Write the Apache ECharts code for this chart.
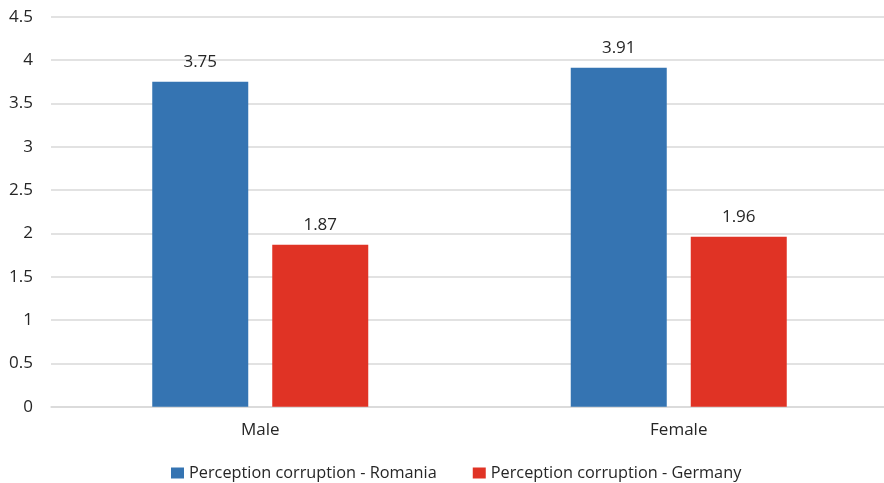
<!DOCTYPE html>
<html>
<head>
<meta charset="utf-8">
<script src="https://cdn.jsdelivr.net/npm/echarts@6/dist/echarts.min.js"></script>
<style>
  html, body { margin: 0; padding: 0; background: #fff; }
  #chart { width: 884px; height: 483px; }
</style>
</head>
<body>
<div id="chart"></div>
<script>
// Gender groups on the x axis
const categories = ['Male', 'Female'];

// Mean corruption perception scores
const romania = [3.75, 3.91];
const germany = [1.87, 1.96];

// Value axis range
const yMin = 0;
const yMax = 4.5;
const yStep = 0.5;

const FONT = '"Open Sans", "Noto Sans", sans-serif';
const TEXT = '#262626';

const chart = echarts.init(document.getElementById('chart'), null, { renderer: 'canvas' });

const labelStyle = {
  show: true,
  position: 'top',
  distance: 11,
  color: TEXT,
  fontSize: 17,
  fontFamily: FONT
};

chart.setOption({
  animation: false,
  backgroundColor: '#ffffff',
  grid: {
    left: 51, top: 16.7, right: -4, height: 390,
    containLabel: false,
    outerBoundsMode: 'none'
  },
  legend: {
    top: 460,
    left: 166,
    itemWidth: 13,
    itemHeight: 11,
    itemGap: 36,
    icon: 'rect',
    textStyle: { color: TEXT, fontSize: 16.3, fontFamily: FONT },
    data: ['Perception corruption - Romania', 'Perception corruption - Germany']
  },
  xAxis: {
    type: 'category',
    data: categories,
    axisLine: { show: true, lineStyle: { color: '#d9d9d9', width: 1.5 } },
    axisTick: { show: false },
    axisLabel: { color: TEXT, fontSize: 17, fontFamily: FONT, margin: 15 }
  },
  yAxis: {
    type: 'value',
    min: yMin,
    max: yMax,
    interval: yStep,
    axisLine: { show: false },
    axisTick: { show: false },
    axisLabel: { color: TEXT, fontSize: 17, fontFamily: FONT, margin: 18 },
    splitLine: { lineStyle: { color: '#d9d9d9', width: 1.5 } }
  },
  series: [
    {
      name: 'Perception corruption - Romania',
      type: 'bar',
      data: romania,
      barWidth: 96,
      barGap: '25%',
      itemStyle: { color: '#3574b2' },
      label: labelStyle
    },
    {
      name: 'Perception corruption - Germany',
      type: 'bar',
      data: germany,
      barWidth: 96,
      barGap: '25%',
      itemStyle: { color: '#e03325' },
      label: labelStyle
    }
  ]
});
</script>
</body>
</html>
